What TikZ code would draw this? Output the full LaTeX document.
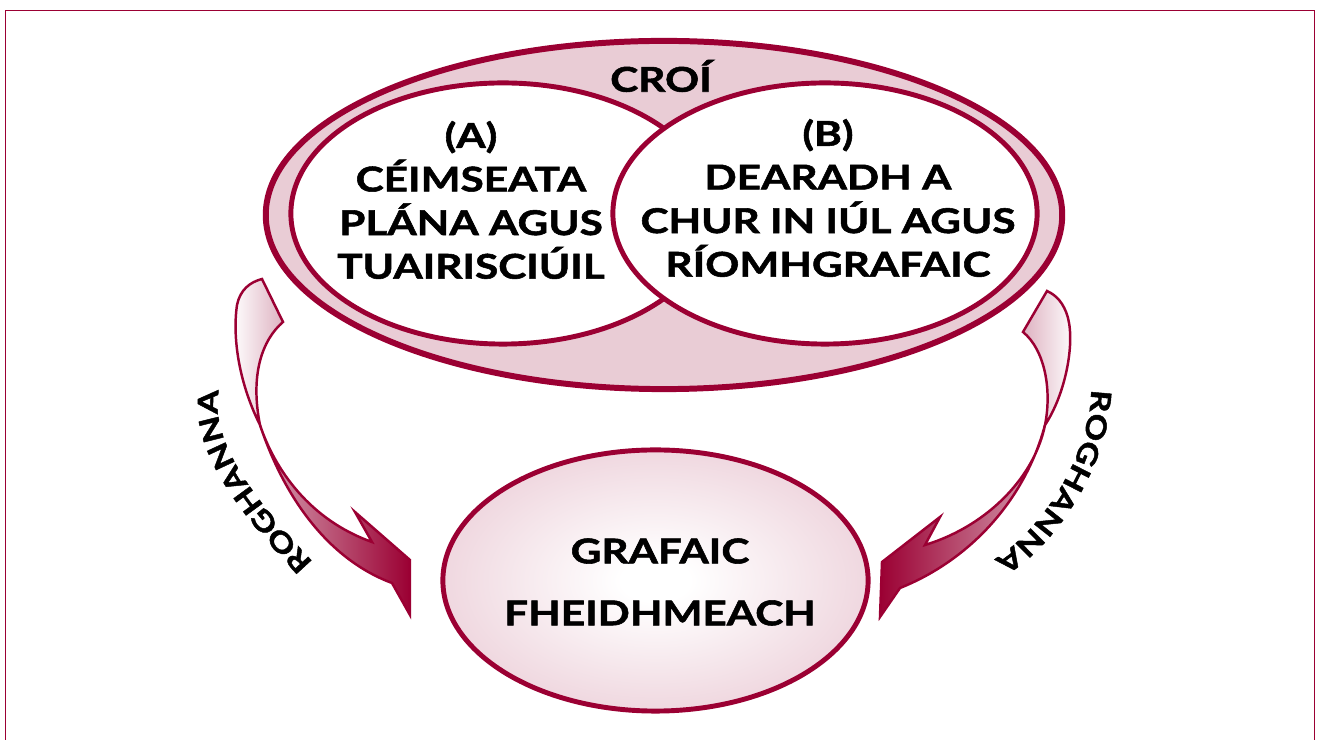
\documentclass[tikz,border=0pt]{standalone}
\usepackage{fontspec}
\setmainfont{Lato}[FakeStretch=1.24, BoldFeatures={FakeBold=1.6}]
\usetikzlibrary{shapes.geometric,decorations.text}
\definecolor{crimson}{RGB}{155,0,51}
\definecolor{bandpink}{RGB}{233,204,213}
\definecolor{grafpink}{RGB}{224,176,192}
\definecolor{ribbonpink}{RGB}{214,160,178}
\definecolor{tailpink}{RGB}{222,178,193}
\pgfdeclareradialshading{grafshade}{\pgfpoint{0bp}{0bp}}{color(0bp)=(white); color(4bp)=(white); color(46bp)=(grafpink); color(50bp)=(grafpink)}
\newcommand\optfont{\bfseries\fontsize{7.9}{9}\selectfont}
\tikzset{
  lbl/.style={font=\bfseries\fontsize{9.7}{12.4}\selectfont, align=center, inner sep=0pt},
  ring/.style={ellipse, draw=crimson, line width=1.4pt, inner sep=0pt},
  ribbon/.style={draw=crimson, line width=0.7pt, line join=miter},
  optlabel/.style={decorate, decoration={text along path, text align=center, text={|\optfont|ROGHANNA}}}
}
\begin{document}
\begin{tikzpicture}[x=0.01cm, y=-0.01cm]
\useasboundingbox (0,0) rectangle (1317,740);
\draw[crimson, line width=0.5pt] (5.5,740) -- (5.5,10.5) -- (1314.5,10.5) -- (1314.5,740);

\node[ring, line width=1.7pt, fill=bandpink, minimum width=7.96cm, minimum height=3.48cm] (core) at (664,215) {};
\node[ring, fill=white, minimum width=4.24cm, minimum height=2.61cm] (geom) at (503,213.5) {};
\node[ring, fill=white, minimum width=4.24cm, minimum height=2.61cm] (design) at (825,213.5) {};
\node[ring, shade, shading=grafshade, minimum width=4.25cm, minimum height=2.61cm] (applied) at (655.5,580.5) {};

\node[lbl] (coreText) at (661,76) {CROÍ};
\node[lbl] (geomText) at (471,200) {(A)\\CÉIMSEATA\\PLÁNA AGUS\\TUAIRISCIÚIL};
\node[lbl] (designText) at (828,198) {(B)\\DEARADH A\\CHUR IN IÚL AGUS\\RÍOMHGRAFAIC};
\node[lbl, font=\bfseries\fontsize{9.7}{17.6}\selectfont] (appliedText) at (660,582) {GRAFAIC\\FHEIDHMEACH};

\filldraw[ribbon, left color=white, right color=tailpink] (262,279) -- (283,322) .. controls (262,340) and (250,375) .. (260,425) .. controls (240,385) and (232,340) .. (237,305) .. controls (240,290) and (250,282) .. (262,279) -- cycle;
\filldraw[ribbon, left color=ribbonpink, right color=crimson] (260,425) .. controls (275,470) and (310,520) .. (372,542) -- (355,512) -- (410,560) -- (410,615) -- (392,583) .. controls (330,560) and (285,500) .. (260,425) -- cycle;

\filldraw[ribbon, left color=tailpink, right color=white] (1047,291) -- (1023,332) .. controls (1045,350) and (1052,390) .. (1045,425) .. controls (1065,395) and (1075,345) .. (1068,318) .. controls (1064,303) and (1056,295) .. (1047,291) -- cycle;
\filldraw[ribbon, left color=crimson, right color=ribbonpink] (1045,425) .. controls (1035,475) and (990,525) .. (925,545) -- (940,517) -- (882,562) -- (880,617) -- (900,588) .. controls (970,560) and (1025,500) .. (1045,425) -- cycle;

\path[optlabel] (312,561) .. controls (260,505) and (210,445) .. (219,392);
\path[optlabel] (1091,395) .. controls (1088,455) and (1045,525) .. (999,556);
\end{tikzpicture}
\end{document}
